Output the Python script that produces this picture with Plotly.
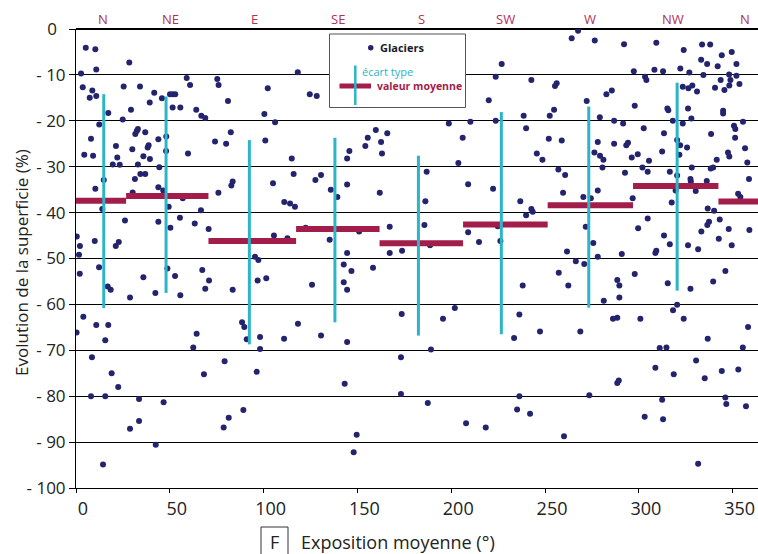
import plotly.graph_objects as go

# ---------------- data ----------------
# Glaciers: mean exposure (deg) and surface change (%)
expo_a = [5.2, 10.3, 2.7, 10.8, 3.6, 8.7, 7.3, 10.8, 28.4, 25.4, 34.1, 17.2, 29.3, 24.9, 12.4, 8.0, 4.4, 9.1,
          21.3, 22.0, 19.6, 23.3, 14.8, 10.3, 14.0, 0.4, 2.1, 1.6, 10.0, 21.2, 22.8, 26.1, 12.3, 30.2, 31.4,
          30.0, 33.0, 31.6, 32.4, 33.0, 36.9, 34.3, 36.9, 35.9, 39.4, 38.2, 38.7, 39.3, 41.7, 45.8, 43.9,
          48.1, 48.0, 44.4, 43.9, 46.5, 49.4, 43.9, 50.3, 55.4, 56.9, 50.1, 51.5, 52.9, 51.5, 55.6, 59.0,
          60.8, 64.1, 66.8, 68.9, 59.7, 63.3, 66.6, 70.7, 75.3, 76.0, 81.0, 82.5, 74.1, 80.0, 75.9, 82.8,
          83.5, 95.4, 97.2,
          2.0, 16.9, 18.5, 28.8, 35.9, 42.3, 48.7, 52.8, 55.6, 67.3, 70.9, 68.9, 83.5, 96.8, 0.3, 3.9, 10.8,
          17.2, 15.6, 8.5, 19.0, 22.5, 8.0, 15.6, 14.4, 33.6, 33.6, 28.8, 42.5, 46.7, 62.5, 64.3, 68.2, 79.2,
          81.4, 78.7, 89.2, 88.5, 89.7, 91.0, 96.3, 98.1, 98.1]
evol_a = [-4.1, -4.4, -9.7, -8.8, -12.7, -13.4, -15.0, -14.6, -7.3, -12.5, -12.5, -18.3, -17.6, -19.7, -20.8,
          -23.9, -27.4, -27.6, -25.5, -28.0, -29.5, -29.6, -32.9, -34.8, -39.2, -45.2, -47.3, -49.2, -46.2,
          -47.3, -46.4, -41.7, -51.9, -35.6, -32.7, -26.2, -29.5, -22.9, -22.2, -21.8, -22.5, -31.6, -31.6,
          -27.7, -28.3, -25.8, -25.3, -16.0, -13.9, -15.1, -24.0, -23.4, -26.6, -30.1, -34.5, -35.2, -38.7,
          -42.0, -43.3, -41.1, -36.9, -14.2, -14.2, -14.2, -17.1, -17.1, -10.7, -12.2, -17.6, -18.9, -19.4,
          -27.1, -42.4, -39.5, -43.6, -10.9, -12.2, -15.7, -22.5, -24.5, -25.0, -35.7, -34.1, -33.2, -49.6,
          -50.3,
          -53.3, -56.1, -56.8, -58.5, -54.1, -57.5, -52.2, -53.8, -58.0, -52.5, -54.8, -56.6, -56.8, -54.8,
          -66.1, -62.7, -64.5, -64.5, -67.8, -71.5, -75.0, -78.0, -80.0, -80.0, -94.9, -80.6, -85.4, -87.1,
          -90.6, -81.3, -69.4, -66.4, -75.2, -72.4, -84.7, -86.8, -83.0, -63.9, -64.9, -67.6, -74.7, -69.7,
          -67.1]

expo_b = [118.2, 102.2, 124.6, 128.3, 100.4, 106.1, 100.9, 115.0, 116.0, 105.0, 111.0, 114.1, 116.7, 127.6,
          130.6, 135.8, 139.3, 144.5, 145.7, 144.5, 154.2, 155.5, 159.8, 162.6, 165.9, 163.1, 161.9, 167.2,
          122.4, 105.5, 112.7, 135.2, 150.9, 144.5, 142.7, 146.8, 158.3, 167.2, 173.8, 101.4, 125.8, 142.7,
          144.5, 118.3, 110.9, 130.6, 144.5, 143.2, 173.6, 173.2, 173.2, 149.6, 148.0]
evol_b = [-9.4, -12.9, -14.2, -14.6, -18.5, -20.3, -24.3, -28.2, -31.6, -33.6, -37.7, -38.0, -38.7, -32.9,
          -31.8, -35.0, -36.6, -28.2, -26.6, -33.9, -25.5, -23.7, -22.0, -24.6, -22.7, -27.1, -35.7, -43.1,
          -43.3, -45.0, -45.6, -45.9, -44.1, -48.8, -51.3, -52.7, -52.0, -48.8, -48.3, -54.3, -55.7, -55.2,
          -56.8, -64.2, -67.5, -66.8, -68.2, -77.3, -62.1, -71.5, -79.5, -88.4, -92.2]

expo_c = [267.6, 264.2, 226.9, 223.7, 242.7, 255.3, 256.2, 220.0, 272.2, 254.8, 252.5, 238.6, 223.7, 210.2,
          198.7, 239.9, 206.1, 252.0, 258.9, 245.6, 248.6, 203.8, 186.9, 257.1, 260.7, 209.0, 222.3, 259.6,
          270.4, 186.2, 236.8, 242.7, 243.4, 239.9, 185.7, 224.8, 271.7, 209.0, 214.8, 226.2, 188.7, 261.7,
          266.4, 270.9, 257.3, 262.4, 238.1, 201.9, 195.6, 236.3, 233.5, 247.3, 268.8, 189.2, 187.5, 236.3,
          235.1, 242.0, 207.9, 218.4, 260.1, 273.6]
evol_c = [-0.4, -2.0, -7.6, -10.4, -11.1, -12.4, -11.8, -15.5, -15.7, -17.6, -18.9, -18.9, -20.0, -20.2,
          -20.6, -21.6, -23.7, -23.9, -24.3, -27.1, -28.5, -29.2, -31.1, -30.6, -31.8, -33.8, -34.8, -35.7,
          -36.6, -37.5, -37.5, -39.2, -39.8, -40.6, -42.7, -43.0, -43.1, -44.3, -46.4, -46.2, -47.1, -48.5,
          -50.6, -51.2, -53.1, -55.9, -55.9, -60.8, -63.1, -62.2, -67.3, -65.9, -65.9, -69.8, -81.5, -80.0,
          -82.9, -83.8, -85.9, -86.8, -88.7, -79.8]

expo_d = [276.5, 292.1, 309.3, 323.9, 333.7, 338.0, 349.5, 344.2, 333.2, 336.4, 342.0, 352.0, 297.3, 308.3,
          312.9, 322.1, 326.9, 334.4, 348.1, 352.0, 303.3, 304.0, 348.8, 343.6, 323.4, 326.4, 328.5, 331.0,
          340.6, 345.6, 348.2, 353.6, 282.7, 285.6, 297.8, 315.2, 315.7, 326.2, 328.0, 344.9, 344.9, 279.2,
          286.8, 291.6, 318.1, 323.4, 355.5, 350.7, 351.4, 302.6, 313.4, 338.5, 351.3, 278.1, 286.8, 293.3,
          294.2, 320.4, 322.0, 325.7, 312.4, 356.6, 347.5, 348.2, 276.3, 279.3, 281.1, 299.4, 296.2, 305.4,
          321.6, 341.5, 357.8, 280.6, 301.9, 304.7, 292.6, 316.5, 328.2, 338.3, 339.6, 320.4, 327.5, 327.7,
          336.2, 358.7, 330.3, 278.1, 319.6, 352.9, 354.1, 296.7, 317.5, 274.4, 336.7, 340.1, 337.4, 336.5,
          343.1, 304.7, 299.6, 313.4, 316.5, 333.3, 347.9, 358.9, 342.6, 349.5, 326.2, 331.6, 275.7, 309.3,
          308.8, 278.1, 290.9, 297.8, 288.5, 289.6, 289.6, 281.3, 315.4, 327.5, 339.6, 346.1, 320.4, 318.2,
          323.9, 300.8, 286.2, 288.5, 358.2, 336.7, 311.1, 314.7, 355.4, 330.5, 308.8, 318.6, 335.1, 344.2,
          353.0, 288.5, 289.3, 312.4, 346.1, 346.6, 357.1, 303.1, 312.9, 331.6]
evol_d = [-2.5, -3.3, -3.0, -4.6, -3.4, -3.4, -5.0, -5.7, -6.7, -7.6, -8.1, -7.6, -9.2, -8.9,
          -9.2, -8.6, -9.5, -10.0, -9.9, -10.2, -10.4, -11.1, -11.1, -11.1, -12.6, -12.9, -12.3, -13.6,
          -12.8, -13.3, -12.3, -12.0, -14.2, -13.4, -16.7, -17.3, -17.7, -17.3, -19.5, -17.8, -18.4, -19.2,
          -20.0, -20.6, -20.0, -20.6, -20.2, -21.1, -21.8, -21.6, -22.7, -22.9, -23.7, -24.6, -25.0, -25.3,
          -24.8, -24.2, -25.3, -25.8, -26.7, -26.0, -26.9, -27.8, -26.9, -27.6, -28.5, -27.3, -28.0, -28.7,
          -27.4, -28.5, -29.1, -30.2, -30.2, -31.1, -31.3, -31.1, -30.2, -30.4, -30.2, -31.9, -32.7, -33.2,
          -33.1, -32.7, -35.3, -35.2, -35.2, -35.9, -36.6, -36.9, -37.8, -36.9, -39.1, -39.6, -42.0, -42.7,
          -41.5, -41.3, -43.4, -45.0, -46.9, -44.1, -43.6, -43.8, -45.7, -47.1, -47.1, -48.0, -46.6, -48.3,
          -48.8, -49.6, -49.0, -53.4, -54.7, -55.9, -58.5, -59.2, -55.4, -56.6, -55.0, -52.7, -60.1, -61.3,
          -63.1, -63.1, -63.1, -62.9, -64.9, -67.5, -69.5, -69.4, -69.4, -72.2, -73.8, -75.2, -76.1, -74.5,
          -74.2, -77.1, -76.6, -80.8, -80.3, -81.7, -82.2, -84.5, -85.0, -94.7]

# Sector mean values (valeur moyenne) and their exposure extents
sector_start = [0, 26.7, 70.6, 117.3, 161.8, 206.3, 251.4, 296.9, 342.4]
sector_end = [26.7, 70.6, 117.3, 161.8, 206.3, 251.4, 296.9, 342.4, 363.5]
sector_mean = [-37.4, -36.4, -46.2, -43.6, -46.7, -42.6, -38.4, -34.2, -37.6]

# Standard deviation (écart type) bars
sd_expo = [14.8, 48.0, 92.4, 138.0, 182.5, 226.7, 273.3, 320.4]
sd_mean = [-37.5, -36.1, -46.45, -43.8, -47.2, -42.3, -38.8, -34.35]
sd_value = [23.3, 21.4, 22.25, 20.1, 19.6, 24.2, 21.9, 22.65]

# Compass labels
compass_labels = ["N", "NE", "E", "SE", "S", "SW", "W", "NW", "N"]
compass_pos = [14.4, 50.6, 94.9, 139.7, 183.9, 228.7, 274.0, 318.2, 356.6]

y_ticks = [0, -10, -20, -30, -40, -50, -60, -70, -80, -90, -100]
y_ticktext = ["0\u2002", "- 10", "- 20", "- 30", "- 40", "- 50", "- 60", "- 70", "- 80", "- 90", "- 100"]
x_ticks = [0, 50, 100, 150, 200, 250, 300, 350]

# ---------------- styling ----------------
DOT = "#24246e"
CYAN = "#2cb4c7"
CRIMSON = "#a21d4a"
LABEL_RED = "#b0305a"
FONT = "Open Sans"

W, H = 758, 554
L, R, T, B = 76, 0, 29, 66
PW, PH = W - L - R, H - T - B


def px(x):
    return (x - L) / PW


def py(y):
    return (H - B - y) / PH


fig = go.Figure()

fig.add_trace(go.Scatter(
    x=expo_a + expo_b + expo_c + expo_d,
    y=evol_a + evol_b + evol_c + evol_d,
    mode="markers",
    marker=dict(color=DOT, size=6, line=dict(width=0)),
    showlegend=False, hoverinfo="x+y"))

mx, my = [], []
for s, e, m in zip(sector_start, sector_end, sector_mean):
    mx += [s, e, None]
    my += [m, m, None]
fig.add_trace(go.Scatter(x=mx, y=my, mode="lines",
                         line=dict(color=CRIMSON, width=6), showlegend=False, hoverinfo="skip"))

sx, sy = [], []
for c, m, s in zip(sd_expo, sd_mean, sd_value):
    sx += [c, c, None]
    sy += [m + s, m - s, None]
fig.add_trace(go.Scatter(x=sx, y=sy, mode="lines",
                         line=dict(color=CYAN, width=3), showlegend=False, hoverinfo="skip"))

shapes = []
annotations = []

# legend box
shapes.append(dict(type="rect", xref="paper", yref="paper",
                   x0=px(329.5), x1=px(465.5), y0=py(107.5), y1=py(34),
                   line=dict(color="#555555", width=1), fillcolor="white", layer="above"))
shapes.append(dict(type="line", xref="paper", yref="paper",
                   x0=px(339.5), x1=px(371), y0=py(86), y1=py(86),
                   line=dict(color=CRIMSON, width=5), layer="above"))
shapes.append(dict(type="line", xref="paper", yref="paper",
                   x0=px(355.3), x1=px(355.3), y0=py(105), y1=py(65.5),
                   line=dict(color=CYAN, width=2.5), layer="above"))
shapes.append(dict(type="circle", xref="paper", yref="paper",
                   x0=px(368), x1=px(373.5), y0=py(50.5), y1=py(45),
                   line=dict(width=0), fillcolor=DOT, layer="above"))
annotations.append(dict(text="<b>Glaciers</b>", xref="paper", yref="paper", x=px(378), y=py(47.5),
                        xanchor="left", yanchor="middle", showarrow=False,
                        font=dict(family=FONT, size=11, color="#1a1a2e")))
annotations.append(dict(text="écart type", xref="paper", yref="paper", x=px(359.5), y=py(71),
                        xanchor="left", yanchor="middle", showarrow=False,
                        font=dict(family=FONT, size=11, color=CYAN)))
annotations.append(dict(text="<b>valeur moyenne</b>", xref="paper", yref="paper", x=px(375), y=py(86),
                        xanchor="left", yanchor="middle", showarrow=False,
                        font=dict(family=FONT, size=10.5, color=CRIMSON)))

# compass labels
for lab, pos in zip(compass_labels, compass_pos):
    annotations.append(dict(text=lab, x=pos, xref="x", y=py(19), yref="paper",
                            xanchor="center", yanchor="middle", showarrow=False,
                            font=dict(family=FONT, size=13, color=LABEL_RED)))

# axis titles
annotations.append(dict(text="Evolution de la superficie (%)", xref="paper", yref="paper",
                        x=px(21), y=py(263), textangle=-90, showarrow=False,
                        xanchor="center", yanchor="middle",
                        font=dict(family=FONT, size=17, color="#222222")))
annotations.append(dict(text="Exposition moyenne (°)", xref="paper", yref="paper",
                        x=px(299), y=py(542), showarrow=False, xanchor="left", yanchor="middle",
                        font=dict(family=FONT, size=18, color="#222222")))
shapes.append(dict(type="rect", xref="paper", yref="paper",
                   x0=px(261), x1=px(288), y0=py(560), y1=py(527),
                   line=dict(color="#333333", width=1), fillcolor="white"))
annotations.append(dict(text="F", xref="paper", yref="paper", x=px(274.5), y=py(542),
                        showarrow=False, xanchor="center", yanchor="middle",
                        font=dict(family=FONT, size=18, color="#222222")))

fig.update_layout(
    width=W, height=H,
    margin=dict(l=L, r=R, t=T, b=B, pad=0),
    paper_bgcolor="white", plot_bgcolor="white",
    shapes=shapes, annotations=annotations,
    font=dict(family=FONT, color="#222222"),
    xaxis=dict(range=[0, 363.5], tickvals=x_ticks, ticks="outside", ticklen=4, tickcolor="black",
               showline=True, linecolor="black", linewidth=1, showgrid=False, zeroline=False,
               ticklabelshift=7,
               tickfont=dict(family=FONT, size=18, color="#222222")),
    yaxis=dict(range=[-100, 0], tickvals=y_ticks, ticktext=y_ticktext, ticks="outside", ticklen=6,
               tickcolor="black", showline=True, linecolor="black", linewidth=1,
               showgrid=True, gridcolor="black", gridwidth=1,
               zeroline=True, zerolinecolor="black", zerolinewidth=2,
               tickfont=dict(family=FONT, size=17, color="#222222")),
)

fig.write_html("out.html", config={"displayModeBar": False},
               post_script="document.body.style.margin='0';")
